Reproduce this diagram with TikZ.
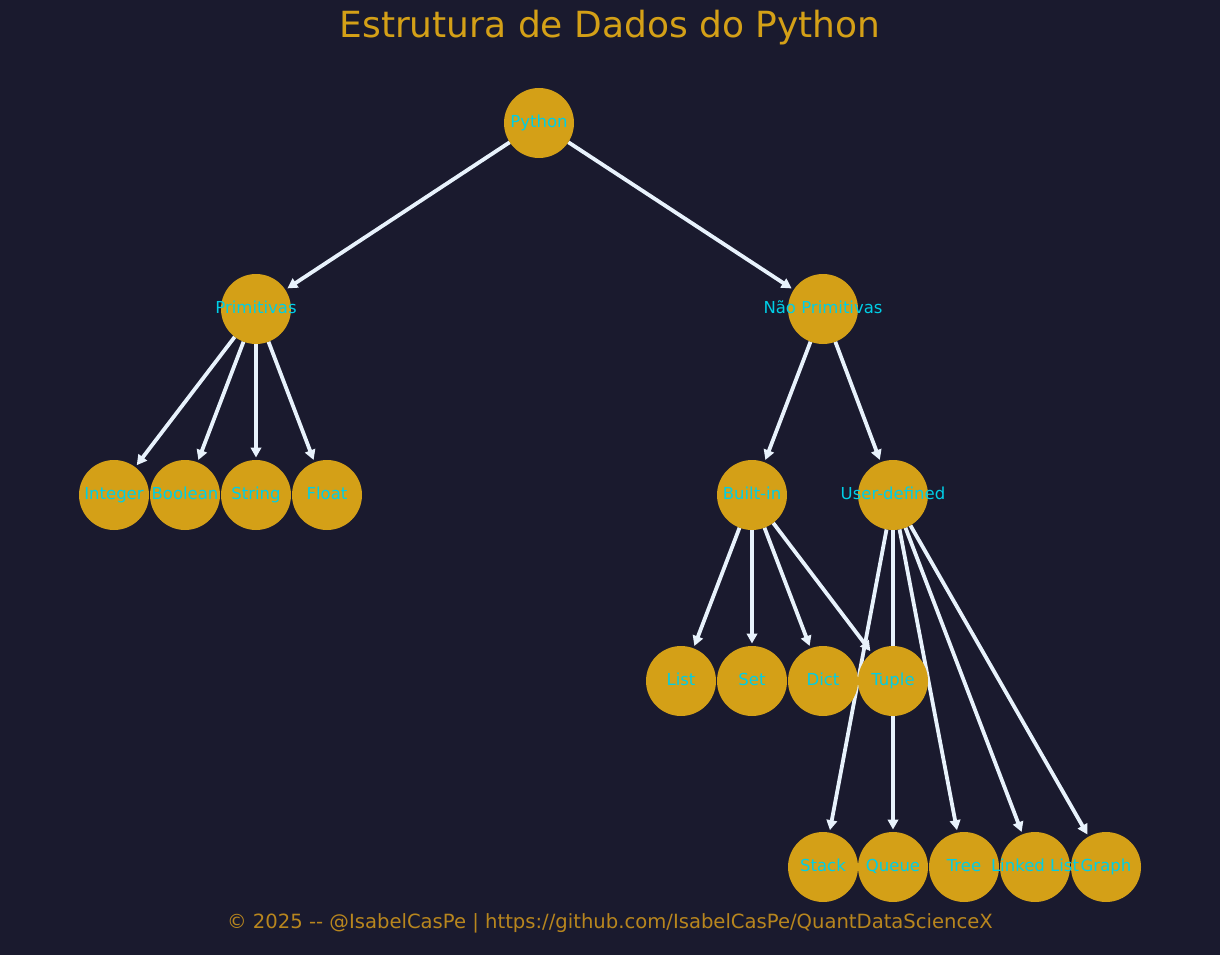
\documentclass[tikz,border=0pt]{standalone}
\usepackage{fontspec}
\setmainfont{DejaVu Sans}
\usetikzlibrary{arrows.meta}
\definecolor{bgc}{RGB}{26,26,46}
\definecolor{gold}{RGB}{212,160,23}
\definecolor{cyanl}{RGB}{0,206,230}
\definecolor{edgec}{RGB}{232,242,252}
\definecolor{footc}{RGB}{184,134,30}
\pgfdeclarelayer{bglayer}
\pgfdeclarelayer{edgelayer}
\pgfsetlayers{bglayer,edgelayer,main}
\tikzset{
  dot/.style={circle,fill=gold,draw=none,minimum size=70pt,inner sep=0pt,outer sep=0pt},
  lbl/.style={text=cyanl,font=\fontsize{16.5}{18}\selectfont,inner sep=0pt,text height=12pt,text depth=3.5pt},
  edge/.style={draw=edgec,line width=3.8pt,-{Triangle[length=10pt,width=10.5pt]},shorten >=2.5pt}
}
\begin{document}
\begin{tikzpicture}[x=1pt,y=-1pt]
\begin{pgfonlayer}{bglayer}
\fill[bgc] (0,0) rectangle (1220,955);
\end{pgfonlayer}
\useasboundingbox (0,0) rectangle (1220,955);

\node[text=gold,font=\fontsize{36}{40}\selectfont] (title) at (610,28) {Estrutura de Dados do Python};
\node[text=footc,font=\fontsize{19.6}{22}\selectfont] (foot) at (610,923) {© 2025 -{}- @IsabelCasPe | https://github.com/IsabelCasPe/QuantDataScienceX};

\foreach \n/\x/\y in {
  py/539/123, pr/256/309, np/823/309,
  int/114/495, boo/185/495, str/256/495, flo/327/495,
  bi/752/495, ud/893/495,
  lis/681/681, set/752/681, dic/823/681, tup/893/681,
  sta/823/867, que/893/867, tre/964/867, ll/1035/867, gra/1106/867}
{
  \node[dot] (\n) at (\x,\y) {};
}
\foreach \n/\t in {
  py/Python, pr/Primitivas, np/Não Primitivas,
  int/Integer, boo/Boolean, str/String, flo/Float,
  bi/Built-in, ud/User-defined,
  lis/List, set/Set, dic/Dict, tup/Tuple,
  sta/Stack, que/Queue, tre/Tree, ll/Linked List, gra/Graph}
{
  \node[lbl] (\n-l) at (\n) {\t};
}

\begin{pgfonlayer}{edgelayer}
\foreach \a/\b in {py/pr, py/np, pr/int, pr/boo, pr/str, pr/flo, np/bi, np/ud,
  bi/lis, bi/set, bi/dic, bi/tup, ud/sta, ud/que, ud/tre, ud/ll, ud/gra}
{
  \draw[edge] (\a) -- (\b);
}
\end{pgfonlayer}
\end{tikzpicture}
\end{document}
